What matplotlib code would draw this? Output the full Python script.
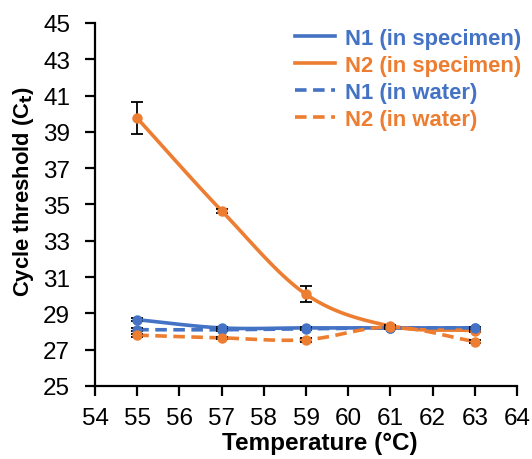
import numpy as np
import matplotlib
matplotlib.use("Agg")
import matplotlib.pyplot as plt
from matplotlib.lines import Line2D

plt.rcParams['font.family'] = ['Liberation Sans', 'DejaVu Sans']

temps = [55, 57, 59, 61, 63]
n1_spec = [28.65, 28.2, 28.2, 28.2, 28.2]
n1_spec_err = [0.08, 0.05, 0.05, 0.05, 0.05]
n2_spec = [39.75, 34.65, 30.05, 28.3, 28.05]
n2_spec_err = [0.88, 0.1, 0.45, 0.05, 0.05]
n1_water = [28.1, 28.1, 28.15, 28.2, 28.2]
n1_water_err = [0.08, 0.05, 0.05, 0.05, 0.05]
n2_water = [27.8, 27.65, 27.55, 28.25, 27.45]
n2_water_err = [0.08, 0.05, 0.1, 0.05, 0.1]

labels = ["N1 (in specimen)", "N2 (in specimen)", "N1 (in water)", "N2 (in water)"]
blue = "#4472C4"
orange = "#ED7D31"


def smooth(x, y, n=30):
    x = np.asarray(x, float)
    y = np.asarray(y, float)
    px = np.concatenate([[2 * x[0] - x[1]], x, [2 * x[-1] - x[-2]]])
    py = np.concatenate([[2 * y[0] - y[1]], y, [2 * y[-1] - y[-2]]])
    xs, ys = [], []
    for i in range(1, len(px) - 2):
        t = np.linspace(0, 1, n)
        p0x, p1x, p2x, p3x = px[i - 1:i + 3]
        p0y, p1y, p2y, p3y = py[i - 1:i + 3]
        s = 0.5
        m1x, m2x = s * (p2x - p0x), s * (p3x - p1x)
        m1y, m2y = s * (p2y - p0y), s * (p3y - p1y)
        h00 = 2 * t**3 - 3 * t**2 + 1
        h10 = t**3 - 2 * t**2 + t
        h01 = -2 * t**3 + 3 * t**2
        h11 = t**3 - t**2
        xs.append(h00 * p1x + h10 * m1x + h01 * p2x + h11 * m2x)
        ys.append(h00 * p1y + h10 * m1y + h01 * p2y + h11 * m2y)
    return np.concatenate(xs), np.concatenate(ys)


fig = plt.figure(figsize=(5.32, 4.6), dpi=100)
ax = fig.add_axes([0.1786, 0.1587, 0.7934, 0.7893])

dash = (0, (3.2, 1.8))
series = [
    (n1_spec, n1_spec_err, blue, '-'),
    (n2_spec, n2_spec_err, orange, '-'),
    (n1_water, n1_water_err, blue, dash),
    (n2_water, n2_water_err, orange, dash),
]
for i, (vals, err, col, ls) in enumerate(series):
    sx, sy = smooth(temps, vals)
    ax.plot(sx, sy, color=col, lw=2.6, ls=ls, zorder=2 + i, solid_capstyle='round')
    ax.errorbar(temps, vals, yerr=err, fmt='o', color=col, ms=6.5,
                ecolor='black', elinewidth=1.3, capsize=4, capthick=1.3,
                zorder=2 + i)

ax.set_xlim(54, 64)
ax.set_ylim(25, 45)
ax.set_xticks(range(54, 65))
ax.set_yticks(range(25, 46, 2))
for s in ['top', 'right']:
    ax.spines[s].set_visible(False)
for s in ['left', 'bottom']:
    ax.spines[s].set_linewidth(1.6)
ax.tick_params(direction='out', length=7, width=1.6, labelsize=17.5)
ax.tick_params(axis='x', pad=8)
ax.tick_params(axis='y', pad=11)
ax.set_xlabel("Temperature (°C)", fontsize=17.5, fontweight='bold')
ax.xaxis.set_label_coords(0.533, -0.125)
ax.set_ylabel("Cycle threshold (C$_\\mathbf{t}$)", fontsize=15.8, fontweight='bold')
ax.yaxis.set_label_coords(-0.14, 0.537)

handles = [Line2D([], [], color=c, lw=2.6, ls=l) for _, _, c, l in series]
leg = ax.legend(handles, labels, loc='upper right', bbox_to_anchor=(1.04, 1.022),
                frameon=False, handlelength=1.8, handletextpad=0.45,
                labelspacing=0.27, borderaxespad=0.2,
                prop={'weight': 'bold', 'size': 15.8})
for t, (_, _, c, _) in zip(leg.get_texts(), series):
    t.set_color(c)

fig.savefig("out.png", dpi=100)
